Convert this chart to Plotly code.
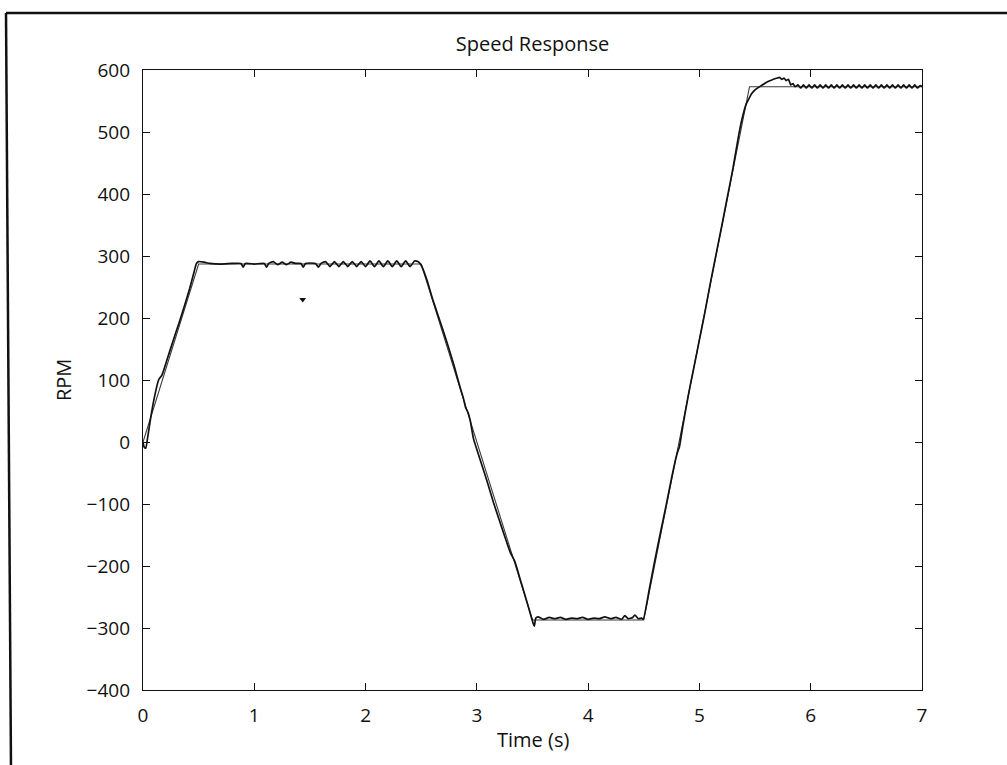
import plotly.graph_objects as go

# ---------------- data ----------------
ref_t = [0.0, 0.5, 2.5, 3.5, 4.5, 5.45, 7.0]
ref_rpm = [0, 287, 287, -287, -287, 573, 573]

act_t = [
    0.0, 0.01, 0.025, 0.04, 0.07, 0.10, 0.14, 0.17, 0.22, 0.27, 0.32, 0.37, 0.42, 0.46, 0.48,
    0.50, 0.55, 0.60, 0.70, 0.80, 0.88, 0.90, 0.92, 1.00, 1.09, 1.11, 1.13, 1.17, 1.21, 1.25,
    1.29, 1.33, 1.37, 1.42, 1.44, 1.46, 1.55, 1.575, 1.60, 1.64, 1.68, 1.72, 1.76, 1.80, 1.84,
    1.88, 1.92, 1.96, 2.00, 2.04, 2.08, 2.12, 2.16, 2.20, 2.24, 2.28, 2.32, 2.36, 2.40, 2.44,
    2.47,
    2.50, 2.55, 2.60, 2.65, 2.70, 2.75, 2.80, 2.85, 2.88, 2.90, 2.92, 2.94, 2.97, 3.00, 3.05,
    3.10, 3.15, 3.20, 3.25, 3.30, 3.34, 3.40, 3.45, 3.49, 3.505, 3.516, 3.53,
    3.55, 3.60, 3.65, 3.70, 3.75, 3.80, 3.85, 3.90, 3.95, 4.00, 4.05, 4.10, 4.15, 4.20, 4.25,
    4.30, 4.33, 4.36, 4.40, 4.42, 4.45, 4.48, 4.495,
    4.55, 4.60, 4.65, 4.70, 4.75, 4.79, 4.81, 4.82, 4.85, 4.90, 4.915, 4.95, 5.00, 5.05, 5.10,
    5.15, 5.20, 5.25, 5.30, 5.35, 5.38, 5.42, 5.44, 5.47, 5.50, 5.55, 5.60, 5.65, 5.70, 5.72,
    5.74, 5.76, 5.78, 5.80, 5.82, 5.84,
    5.86, 5.885, 5.91, 5.935, 5.96, 5.985, 6.01, 6.035, 6.06, 6.085, 6.11, 6.135, 6.16, 6.185,
    6.21, 6.235, 6.26, 6.285, 6.31, 6.335, 6.36, 6.385, 6.41, 6.435, 6.46, 6.485, 6.51, 6.535,
    6.56, 6.585, 6.61, 6.635, 6.66, 6.685, 6.71, 6.735, 6.76, 6.785, 6.81, 6.835, 6.86, 6.885,
    6.91, 6.935, 6.96, 6.985, 7.0,
]
act_rpm = [
    0, -8, -10, 5, 40, 70, 100, 108, 135, 163, 190, 218, 248, 275, 288,
    291, 290, 288, 287, 288, 288, 282, 288, 287, 288, 282, 288, 291, 286, 290,
    286, 290, 288, 288, 282, 288, 288, 282, 288, 291, 283, 291, 283, 291, 283,
    291, 283, 291, 283, 292, 283, 292, 283, 292, 283, 292, 283, 292, 283, 292,
    291,
    285, 262, 232, 205, 178, 150, 120, 88, 70, 55, 48, 35, 5, -12, -40,
    -68, -98, -125, -152, -178, -192, -228, -258, -283, -292, -297, -284,
    -282, -286, -283, -285, -283, -286, -284, -285, -283, -286, -284, -285, -282, -285, -283,
    -286, -280, -285, -283, -279, -285, -284, -286,
    -237, -190, -146, -103, -58, -25, -13, -8, 25, 75, 89, 120, 165, 210, 258,
    303, 348, 394, 440, 492, 519, 545, 552, 562, 568, 574, 580, 584, 587, 588,
    585, 587, 583, 585, 576, 578,
    573, 576, 571, 576, 571, 576, 571, 576, 571, 576, 571, 576, 571, 576,
    571, 576, 571, 576, 571, 576, 571, 576, 571, 576, 571, 576, 571, 576,
    571, 576, 571, 576, 571, 576, 571, 576, 571, 576, 571, 576, 571, 576,
    571, 576, 571, 575, 573,
]

speck_t = [1.435]
speck_rpm = [230]

x_ticks = [0, 1, 2, 3, 4, 5, 6, 7]
y_ticks = [-400, -300, -200, -100, 0, 100, 200, 300, 400, 500, 600]

# ---------------- layout constants ----------------
W, H = 1007, 765
L, R, T, B = 143, 922, 70, 690
FONT = "Open Sans"


def px_x(px):
    return (px - L) / (R - L)


def px_y(py):
    return (B - py) / (B - T)


fig = go.Figure()
fig.add_trace(go.Scatter(x=ref_t, y=ref_rpm, mode="lines",
                         line=dict(color="#3a3a3a", width=1.1), name="Reference"))
fig.add_trace(go.Scatter(x=act_t, y=act_rpm, mode="lines",
                         line=dict(color="#111111", width=1.7, shape="spline", smoothing=0.5),
                         name="Measured"))
fig.add_trace(go.Scatter(x=speck_t, y=speck_rpm, mode="markers",
                         marker=dict(symbol="triangle-down", size=6, color="#111111"),
                         name="speck"))

axis_common = dict(showline=True, linecolor="#111111", linewidth=1.3, mirror="ticks",
                   ticks="inside", ticklen=7, tickcolor="#111111", tickwidth=1.2,
                   showgrid=False, zeroline=False,
                   tickfont=dict(family=FONT, size=19, color="#111111"))

fig.update_layout(
    width=W, height=H,
    margin=dict(l=L, r=W - R, t=T, b=H - B),
    paper_bgcolor="white", plot_bgcolor="white",
    showlegend=False,
    xaxis=dict(range=[0, 7], tickvals=x_ticks, ticklabelstandoff=8, **axis_common),
    yaxis=dict(range=[-400, 600], tickvals=y_ticks, ticklabelstandoff=8, **axis_common),
    title=dict(text="Speed Response", x=(L + R) / 2 / W, xanchor="center",
               y=1 - 44 / H, yanchor="middle",
               font=dict(family=FONT, size=20, color="#111111")),
    annotations=[
        dict(text="Time (s)", xref="paper", yref="paper", x=0.5, y=px_y(739),
             xanchor="center", yanchor="middle", showarrow=False,
             font=dict(family=FONT, size=20, color="#111111")),
        dict(text="RPM", xref="paper", yref="paper", x=px_x(63), y=0.5,
             xanchor="center", yanchor="middle", showarrow=False, textangle=-90,
             font=dict(family=FONT, size=20, color="#111111")),
    ],
    shapes=[
        dict(type="line", xref="paper", yref="paper",
             x0=px_x(6), y0=px_y(13), x1=px_x(1010), y1=px_y(13),
             line=dict(color="#111111", width=2.5)),
        dict(type="line", xref="paper", yref="paper",
             x0=px_x(6), y0=px_y(13), x1=px_x(11), y1=px_y(768),
             line=dict(color="#111111", width=2.5)),
    ],
)

fig.write_html("out.html")
